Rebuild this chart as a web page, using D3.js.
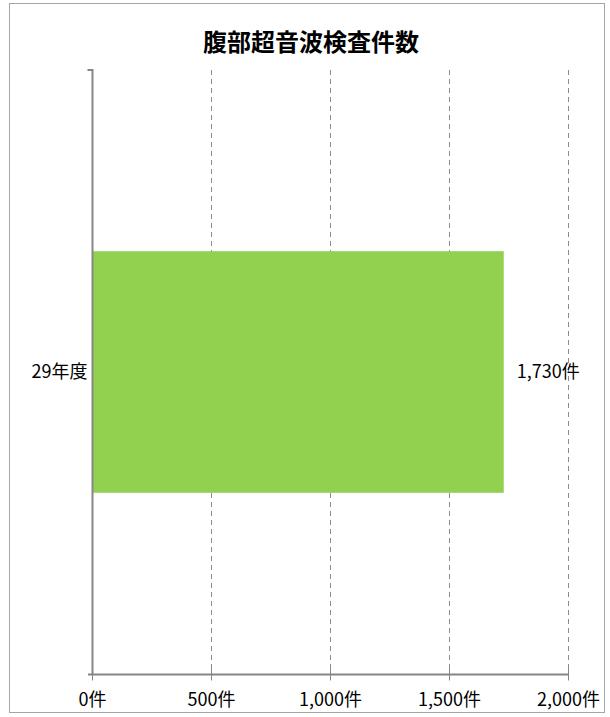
<!DOCTYPE html>
<html>
<head>
<meta charset="utf-8">
<script src="https://cdn.jsdelivr.net/npm/d3@7"></script>
<style>
  body { margin: 0; background: #fff; }
  svg { display: block; font-family: "Noto Sans CJK JP", "Noto Sans", sans-serif; }
</style>
</head>
<body>
<div id="chart"></div>
<script>
const WIDTH = 610;
const HEIGHT = 717;

const categories = ["29年度"];
const counts = [1730];
const xTicks = [0, 500, 1000, 1500, 2000];
const title = "腹部超音波検査件数";

const margin = { left: 92, right: 42, top: 70, bottom: 43 };
const axisColor = "#868686";
const fmt = d3.format(",");

let svg = d3.select("#chart")
    .append("svg")
    .attr("width", WIDTH)
    .attr("height", HEIGHT);

// outer frame
svg.append("rect")
    .attr("x", 9.5)
    .attr("y", 3.5)
    .attr("width", 595)
    .attr("height", 709)
    .attr("fill", "none")
    .attr("stroke", "#a6a6a6")
    .attr("stroke-width", 1);

svg.append("text")
    .attr("x", 311)
    .attr("y", 51)
    .attr("text-anchor", "middle")
    .attr("font-size", 24)
    .attr("font-weight", "bold")
    .text(title);

let x = d3.scaleLinear()
    .domain([0, 2000])
    .range([margin.left, WIDTH - margin.right]);

let y = d3.scaleBand()
    .domain(categories)
    .range([margin.top, HEIGHT - margin.bottom])
    .paddingInner(0.6)
    .paddingOuter(0.3);

let plotBottom = HEIGHT - margin.bottom;

// dashed gridlines
svg.append("g")
    .selectAll("line")
    .data(xTicks.filter(d => d > 0))
    .join("line")
    .attr("x1", d => Math.round(x(d)) + 0.5)
    .attr("x2", d => Math.round(x(d)) + 0.5)
    .attr("y1", margin.top)
    .attr("y2", plotBottom)
    .attr("stroke", "#8c8c8c")
    .attr("stroke-dasharray", "5,4");

// bars
svg.append("g")
    .selectAll("rect")
    .data(categories)
    .join("rect")
    .attr("x", x(0))
    .attr("y", d => y(d))
    .attr("width", (d, i) => x(counts[i]) - x(0))
    .attr("height", y.bandwidth())
    .attr("fill", "#92d050");

// value labels
svg.append("g")
    .selectAll("text")
    .data(categories)
    .join("text")
    .attr("x", (d, i) => x(counts[i]) + 13)
    .attr("y", d => y(d) + y.bandwidth() / 2)
    .attr("dy", "0.35em")
    .attr("font-size", 18)
    .text((d, i) => fmt(counts[i]) + "件");

// x axis
let xAxis = svg.append("g")
    .attr("transform", `translate(0,${plotBottom + 0.5})`)
    .call(d3.axisBottom(x)
        .tickValues(xTicks)
        .tickSize(6)
        .tickPadding(13)
        .tickFormat(d => fmt(d) + "件"));
xAxis.select(".domain").attr("stroke", axisColor).attr("stroke-width", 2)
    .attr("d", `M${x(0) - 4},0H${x(2000)}`);
xAxis.selectAll(".tick line").attr("stroke", axisColor).attr("y1", -6);
xAxis.selectAll(".tick text")
    .attr("font-size", 18)
    .attr("font-family", "Noto Sans CJK JP")
    .attr("fill", "#000");

// y axis
let yAxis = svg.append("g")
    .attr("transform", `translate(${margin.left + 0.5},0)`)
    .call(d3.axisLeft(y).tickSize(0).tickPadding(5));
yAxis.select(".domain").attr("stroke", axisColor).attr("stroke-width", 2)
    .attr("d", `M-5,${margin.top}H0V${plotBottom}`);
yAxis.selectAll(".tick text")
    .attr("font-size", 18)
    .attr("font-family", "Noto Sans CJK JP")
    .attr("fill", "#000");
</script>
</body>
</html>
